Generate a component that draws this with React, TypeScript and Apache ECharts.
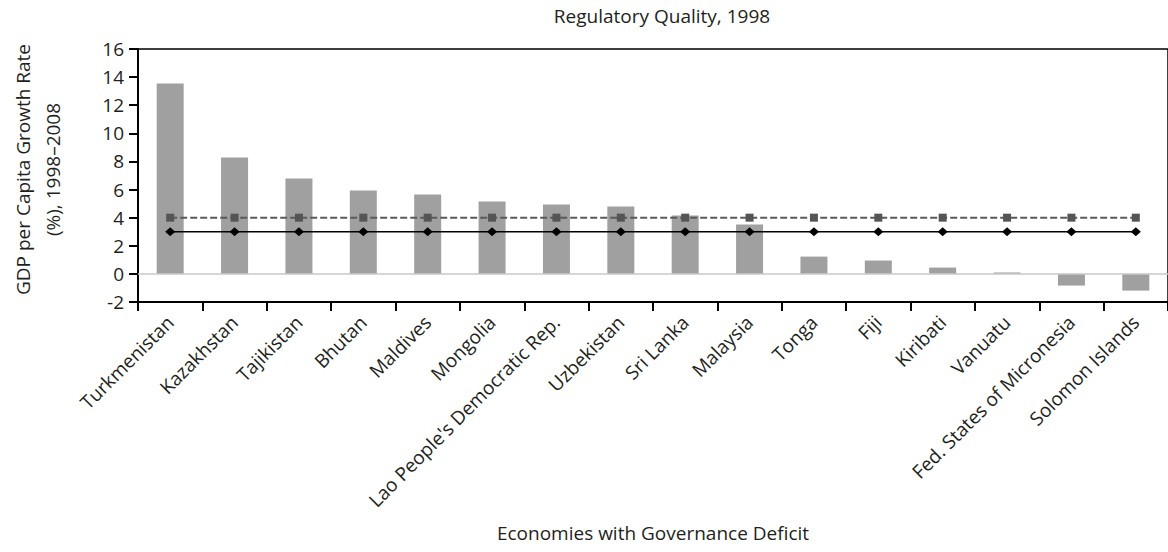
import React, { useEffect, useRef } from "react";
import * as echarts from "echarts";

const categories = [
  "Turkmenistan",
  "Kazakhstan",
  "Tajikistan",
  "Bhutan",
  "Maldives",
  "Mongolia",
  "Lao People's Democratic Rep.",
  "Uzbekistan",
  "Sri Lanka",
  "Malaysia",
  "Tonga",
  "Fiji",
  "Kiribati",
  "Vanuatu",
  "Fed. States of Micronesia",
  "Solomon Islands",
];

const growthRates = [13.55, 8.28, 6.78, 5.93, 5.64, 5.15, 4.93, 4.79, 4.15, 3.51, 1.23, 0.95, 0.45, 0.1, -0.83, -1.19];
const benchmarkSolid = [3, 3, 3, 3, 3, 3, 3, 3, 3, 3, 3, 3, 3, 3, 3, 3];
const benchmarkDashed = [4, 4, 4, 4, 4, 4, 4, 4, 4, 4, 4, 4, 4, 4, 4, 4];
const yTicks = { min: -2, max: 16, interval: 2 };

const FONT = "'Open Sans', 'Noto Sans', sans-serif";
const TXT = "#231f20";

export default function App() {
  const ref = useRef<HTMLDivElement>(null);
  useEffect(() => {
    if (!ref.current) return;
    const chart = echarts.init(ref.current, undefined, { renderer: "svg" });
    chart.setOption({
      animation: false,
      textStyle: { fontFamily: FONT },
      title: {
        text: "Regulatory Quality, 1998",
        left: 657,
        textAlign: "center",
        top: 1,
        textStyle: { fontFamily: FONT, fontSize: 19, fontWeight: "normal", color: TXT },
      },
      grid: {
        left: 138,
        top: 49,
        width: 1037,
        height: 253,
        show: true,
        borderColor: "#000",
        borderWidth: 1.5,
        backgroundColor: "transparent",
      },
      xAxis: {
        type: "category",
        data: categories,
        name: "Economies with Governance Deficit",
        nameLocation: "middle",
        nameGap: 221,
        nameTextStyle: { fontFamily: FONT, fontSize: 19, color: TXT },
        axisLine: { show: true, onZero: false, lineStyle: { color: "#000", width: 2 } },
        axisTick: { show: true, alignWithLabel: false, length: 9, lineStyle: { color: "#000", width: 2 } },
        axisLabel: {
          rotate: 45,
          interval: 0,
          margin: 17,
          fontFamily: FONT,
          fontSize: 19,
          color: TXT,
        },
        splitLine: { show: false },
      },
      yAxis: {
        type: "value",
        min: yTicks.min,
        max: yTicks.max,
        interval: yTicks.interval,
        name: "GDP per Capita Growth Rate\n(%), 1998\u20132008",
        nameLocation: "middle",
        nameRotate: 90,
        nameGap: 70,
        nameTextStyle: { fontFamily: FONT, fontSize: 19, color: TXT, lineHeight: 30, padding: [0, 0, 0, 12] },
        axisLine: { show: true, lineStyle: { color: "#000", width: 2 } },
        axisTick: { show: true, length: 9, lineStyle: { color: "#000", width: 2 } },
        axisLabel: { fontFamily: FONT, fontSize: 19, color: TXT, margin: 14 },
        splitLine: { show: false },
      },
      series: [
        {
          type: "bar",
          data: growthRates,
          barWidth: 27,
          itemStyle: { color: "#a0a0a1" },
          markLine: {
            silent: true,
            symbol: ["none", "none"],
            label: { show: false },
            lineStyle: { color: "#c8c8c8", type: "solid", width: 1.5 },
            data: [{ yAxis: 0 }],
          },
        },
        {
          type: "line",
          data: benchmarkDashed,
          symbol: "rect",
          symbolSize: 8,
          itemStyle: { color: "#555" },
          lineStyle: { color: "#5a5a5a", width: 2, type: [7, 3] },
        },
        {
          type: "line",
          data: benchmarkSolid,
          symbol: "diamond",
          symbolSize: [10, 9],
          itemStyle: { color: "#000" },
          lineStyle: { color: "#000", width: 1.5 },
        },
      ],
    });
    return () => chart.dispose();
  }, []);
  return (
    <div
      ref={ref}
      style={{ position: "absolute", left: 0, top: 0, width: 1168, height: 552 }}
    />
  );
}
